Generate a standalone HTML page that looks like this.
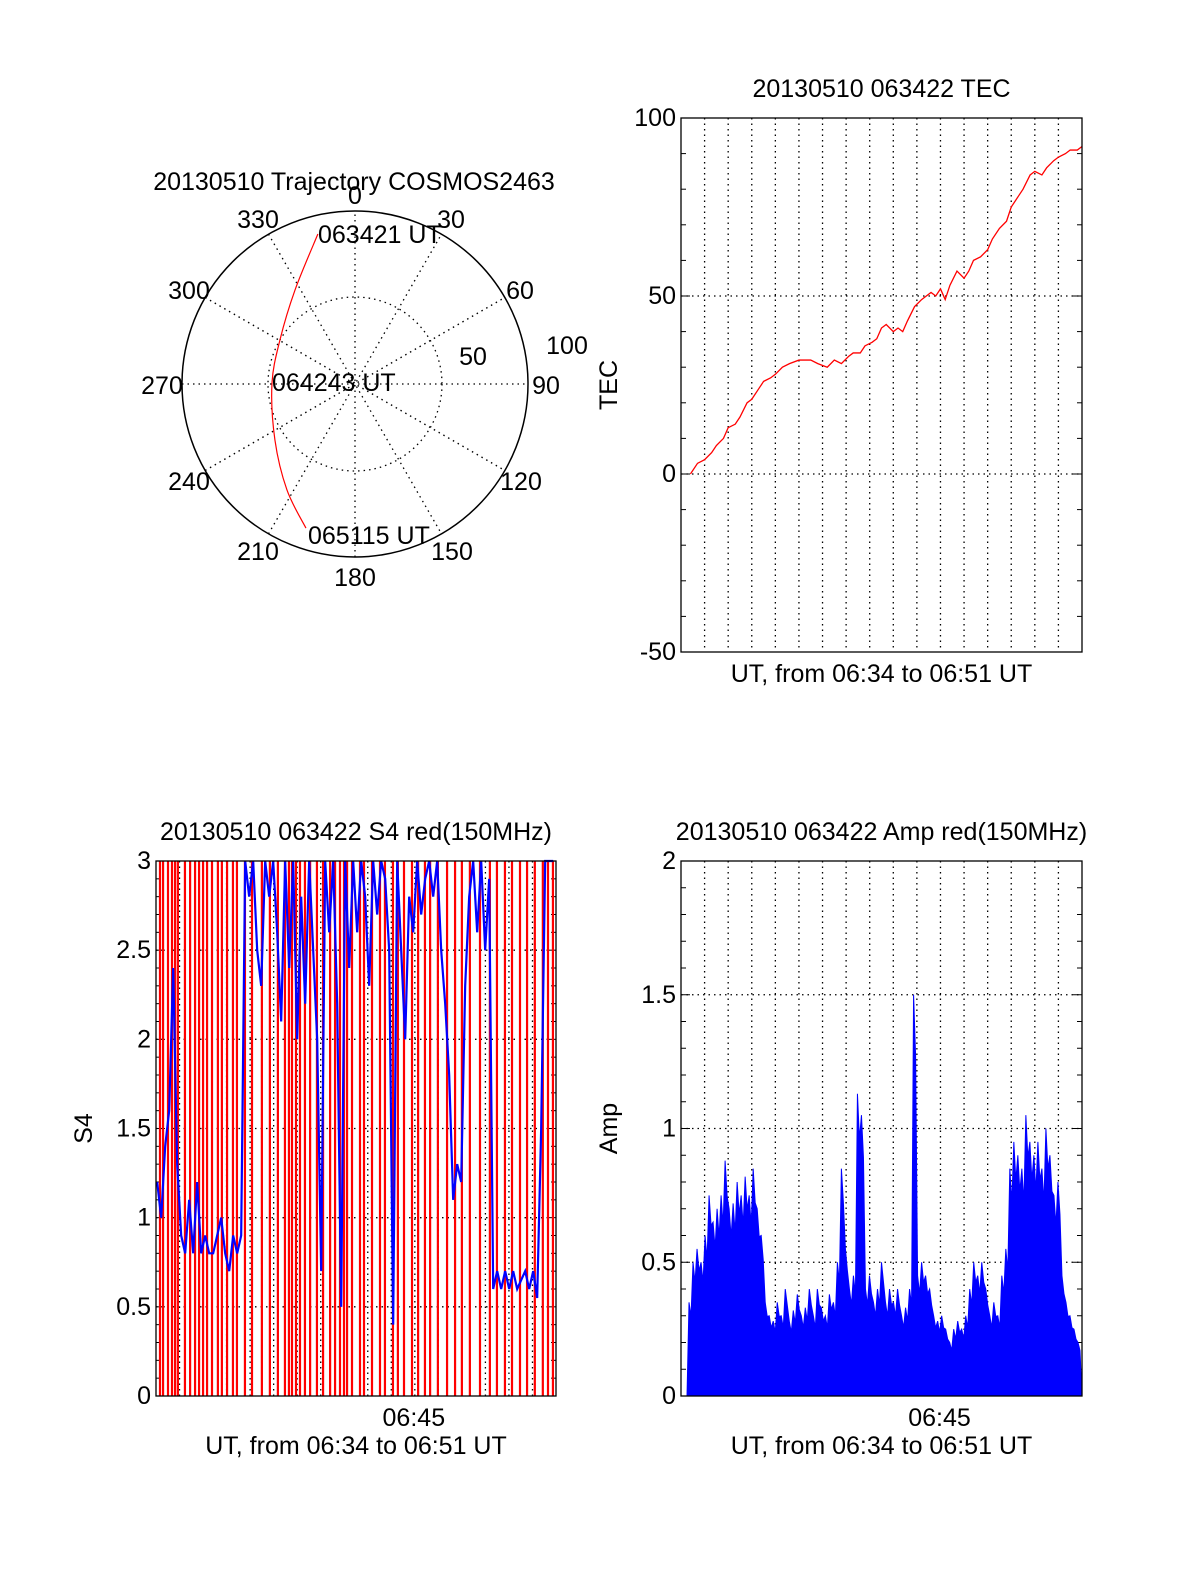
<!DOCTYPE html>
<html><head><meta charset="utf-8"><style>
html,body{margin:0;padding:0;background:#fff;}
svg{display:block;font-family:"Liberation Sans",sans-serif;}
text{font-size:25px;fill:#000;}
</style></head><body>
<svg id="s" width="1200" height="1575" viewBox="0 0 1200 1575">
<g id="polar"></g>
<g id="tec"></g>
<g id="s4"></g>
<g id="amp"></g>
</svg>
<script>
const NS="http://www.w3.org/2000/svg";
// ---- data ----
const tecMinutes=[0.4,0.7,1.0,1.3,1.5,1.8,2.0,2.3,2.5,2.8,3.0,3.3,3.5,3.8,4.0,4.3,4.6,5.0,5.5,5.8,6.2,6.5,6.8,7.1,7.3,7.6,7.8,8.1,8.3,8.5,8.7,9.0,9.2,9.4,9.6,9.9,10.2,10.4,10.6,10.8,11.0,11.2,11.4,11.7,12.0,12.2,12.4,12.7,13.0,13.2,13.5,13.8,14.0,14.3,14.5,14.8,15.0,15.3,15.5,15.8,16.0,16.3,16.5,16.8,17.0];
const tecValues=[0,3,4,6,8,10,13,14,16,20,21,24,26,27,28,30,31,32,32,31,30,32,31,33,34,34,36,37,38,41,42,40,41,40,43,47,49,50,51,50,52,49,53,57,55,57,60,61,63,66,69,71,75,78,80,84,85,84,86,88,89,90,91,91,92];
const tecTicks=[-50,0,50,100];
const s4Ticks=[0,0.5,1,1.5,2,2.5,3];
const ampTicks=[0,0.5,1,1.5,2];
const s4RedMinutes=[0.17,0.3,0.51,0.68,0.81,0.93,1.23,1.45,1.66,1.83,2.0,2.17,2.38,2.63,2.8,3.02,3.27,3.44,3.78,4.08,4.5,4.84,5.18,5.48,5.65,5.78,5.95,6.12,6.33,6.55,6.84,7.1,7.4,7.61,7.82,7.99,8.12,8.33,8.67,8.84,9.18,9.52,9.73,10.07,10.28,10.54,10.88,11.14,11.43,11.65,11.98,12.37,12.71,13.0,13.34,13.77,14.19,14.49,14.83,15.13,15.47,15.77,16.1,16.44,16.66,16.87];
const s4Blue=[1.2,1.0,1.4,1.6,2.4,1.3,0.9,0.8,1.1,0.8,1.2,0.8,0.9,0.8,0.8,0.9,1.0,0.8,0.7,0.9,0.8,0.9,3,2.8,3,2.5,2.3,3,2.8,3,2.6,2.1,3,2.4,3,2.0,2.8,2.2,3,2.5,2.0,0.7,3,2.6,3,2.2,0.5,3,2.4,3,2.6,3,2.8,2.3,3,2.7,3,2.9,2.5,0.4,3,2.5,2.0,2.8,2.6,3,2.7,2.9,3,2.8,3,2.5,2.2,1.8,1.1,1.3,1.2,2.3,2.8,3,2.6,3,2.5,2.9,0.6,0.7,0.6,0.7,0.6,0.7,0.6,0.65,0.7,0.6,0.7,0.55,1.5,3,3,3];
const ampValues=[0,0,0.35,0.5,0.55,0.5,0.6,0.75,0.65,0.7,0.75,0.88,0.7,0.72,0.8,0.75,0.82,0.75,0.85,0.7,0.6,0.35,0.3,0.28,0.35,0.3,0.4,0.28,0.32,0.38,0.3,0.33,0.4,0.3,0.4,0.33,0.3,0.38,0.35,0.5,0.85,0.55,0.4,0.45,1.13,1.05,0.4,0.45,0.35,0.4,0.5,0.35,0.4,0.35,0.4,0.3,0.33,0.4,1.5,0.45,0.5,0.45,0.4,0.3,0.28,0.3,0.25,0.2,0.25,0.28,0.25,0.3,0.4,0.5,0.45,0.5,0.4,0.3,0.35,0.3,0.45,0.55,0.85,0.95,0.9,0.85,1.05,0.95,0.9,0.95,0.85,1.0,0.9,0.75,0.8,0.45,0.35,0.3,0.25,0.2];
const trajAz=[-13.9,-32.5,-59.6,-90,-125,-147.3,-161.2];
const trajR=[0.893,0.645,0.503,0.48,0.565,0.728,0.88];

function el(tag,attrs,parent){const e=document.createElementNS(NS,tag);for(const k in attrs)e.setAttribute(k,attrs[k]);parent.appendChild(e);return e;}
function txt(s,x,y,anchor,parent,name,extra){const t=el('text',Object.assign({x:x,y:y,'text-anchor':anchor||'middle'},extra||{}),parent);t.textContent=s;

return t;}

function makeAxes(g,L,T,R,B,ymin,ymax,ticks,minor,title,ylab,ylabX,showTime){
  const y=v=>B-(v-ymin)/(ymax-ymin)*(B-T);
  const x=m=>L+m/17*(R-L);
  for(let m=1;m<17;m++){const l=el('line',{x1:x(m),x2:x(m),y1:T,y2:B,stroke:'#000','stroke-width':1.3,'stroke-dasharray':'1.5 4'},g);
    }
  ticks.forEach((v,i)=>{
    if(i>0&&i<ticks.length-1){const l=el('line',{x1:L,x2:R,y1:y(v),y2:y(v),stroke:'#000','stroke-width':1.3,'stroke-dasharray':'1.5 4'},g);
      }
    txt(String(v),L-5,y(v)+8,'end',g,'y-tick-label');
  });
  for(let v=ymin;v<=ymax+1e-9;v+=minor){const yy=y(v);const big=ticks.some(t=>Math.abs(t-v)<1e-6);const w=big?9:5;
    el('line',{x1:L,x2:L+w,y1:yy,y2:yy,stroke:'#000','stroke-width':1},g);
    el('line',{x1:R,x2:R-w,y1:yy,y2:yy,stroke:'#000','stroke-width':1},g);}
  txt(title,(L+R)/2,T-21,'middle',g,'chart-title');
  txt('UT, from 06:34 to 06:51 UT',(L+R)/2,showTime?B+58:B+30,'middle',g,'x-axis-title');
  if(showTime) txt('06:45',x(11)-1,B+30,'middle',g,'x-tick-label');
  txt(ylab,ylabX,(T+B)/2,'middle',g,'y-axis-title',{transform:`rotate(-90 ${ylabX} ${(T+B)/2})`});
  return {x,y};
}
function frame(g,L,T,R,B){const r=el('rect',{x:L,y:T,width:R-L,height:B-T,fill:'none',stroke:'#000','stroke-width':1.3},g);
  }

// ---- polar ----
(function(){
  const g=document.getElementById('polar');const cx=355,cy=384,R=173;
  el('circle',{cx,cy,r:R,fill:'none',stroke:'#000','stroke-width':1.5},g);
  el('circle',{cx,cy,r:87,fill:'none',stroke:'#000','stroke-width':1.3,'stroke-dasharray':'1.5 4'},g);
  for(let a=0;a<180;a+=30){const r=a*Math.PI/180;el('line',{x1:cx-R*Math.sin(r),y1:cy+R*Math.cos(r),x2:cx+R*Math.sin(r),y2:cy-R*Math.cos(r),stroke:'#000','stroke-width':1.3,'stroke-dasharray':'1.5 4'},g);}
  const labs=[['0',355,204],['30',451,228],['60',520,299],['90',546,394],['120',521,490],['150',452,560],['180',355,586],['210',258,560],['240',189,490],['270',162,394],['300',189,299],['330',258,228],['100',567,354],['50',473,365]];
  labs.forEach(l=>txt(l[0],l[1],l[2],'middle',g,'polar-angle-label'));
  txt('20130510 Trajectory COSMOS2463',354,190,'middle',g,'polar-title');
  const pts=trajAz.map((a,i)=>{const r=a*Math.PI/180;return [cx+R*trajR[i]*Math.sin(r),cy-R*trajR[i]*Math.cos(r)];});
  let d='M'+pts[0].join(',');
  for(let i=0;i<pts.length-1;i++){const p0=pts[Math.max(0,i-1)],p1=pts[i],p2=pts[i+1],p3=pts[Math.min(pts.length-1,i+2)];
    const c1=[p1[0]+(p2[0]-p0[0])/6,p1[1]+(p2[1]-p0[1])/6],c2=[p2[0]-(p3[0]-p1[0])/6,p2[1]-(p3[1]-p1[1])/6];
    d+=` C${c1.join(',')} ${c2.join(',')} ${p2.join(',')}`;}
  const p=el('path',{d:d,fill:'none',stroke:'#f00','stroke-width':1.2},g);
  txt('063421 UT',318,243,'start',g,'trajectory-start-label');
  txt('064243 UT',272,391,'start',g,'trajectory-mid-label');
  txt('065115 UT',308,544,'start',g,'trajectory-end-label');
})();

// ---- TEC ----
(function(){
  const g=document.getElementById('tec');const L=681,T=118,R=1082,B=652;
  const a=makeAxes(g,L,T,R,B,-50,100,tecTicks,10,'20130510 063422 TEC','TEC',617,false);
  const p=el('polyline',{points:tecMinutes.map((m,i)=>a.x(m)+','+a.y(tecValues[i])).join(' '),fill:'none',stroke:'#f00','stroke-width':1.3},g);
  
  frame(g,L,T,R,B);
})();

// ---- S4 ----
(function(){
  const g=document.getElementById('s4');const L=156,T=861,R=556,B=1396;
  const a=makeAxes(g,L,T,R,B,0,3,s4Ticks,0.1,'20130510 063422 S4 red(150MHz)','S4',92,true);
  s4RedMinutes.forEach(m=>{const l=el('line',{x1:a.x(m),x2:a.x(m),y1:T,y2:B,stroke:'#f00','stroke-width':2.2},g);
    });
  const n=s4Blue.length;
  const p=el('polyline',{points:s4Blue.map((v,i)=>a.x(i*17/n+0.05)+','+a.y(v)).join(' '),fill:'none',stroke:'#00f','stroke-width':2.2},g);
  
  frame(g,L,T,R,B);
})();

// ---- Amp ----
(function(){
  const g=document.getElementById('amp');const L=681,T=861,R=1082,B=1396;
  const a=makeAxes(g,L,T,R,B,0,2,ampTicks,0.1,'20130510 063422 Amp red(150MHz)','Amp',617,true);
  const n=ampValues.length;let pts=[a.x(0)+','+B];
  ampValues.forEach((v,i)=>{const x0=a.x(i*17/n),x1=a.x((i+1)*17/n);pts.push(x0+','+a.y(v));pts.push((x0+x1)/2+','+a.y(v*0.85));});
  pts.push(a.x(17)+','+B);
  const p=el('polygon',{points:pts.join(' '),fill:'#00f',stroke:'#00f','stroke-width':1},g);
  
  frame(g,L,T,R,B);
})();
</script>
</body></html>
